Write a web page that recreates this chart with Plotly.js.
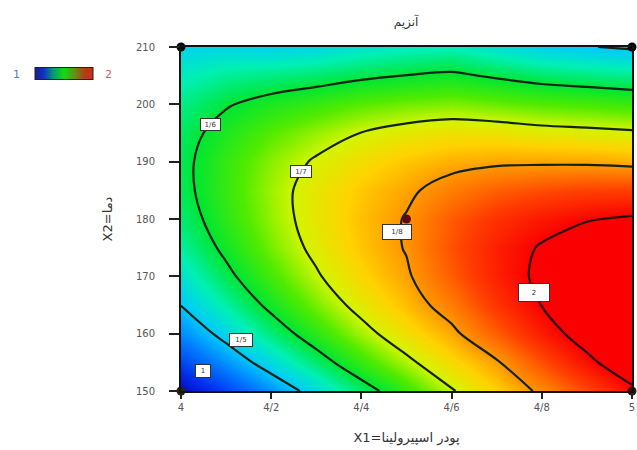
<!DOCTYPE html>
<html>
<head>
<meta charset="utf-8">
<script src="https://cdn.plot.ly/plotly-3.0.1.min.js"></script>
<style>
  html, body { margin: 0; padding: 0; background: #ffffff; }
  #chart { width: 637px; height: 450px; }
</style>
</head>
<body>
<div id="chart"></div>
<script>
// ---- data ----
const X1 = [4.0, 4.1, 4.2, 4.3, 4.4, 4.5, 4.6, 4.7, 4.8, 4.9, 5.0];
const X2 = [150, 155, 160, 165, 170, 175, 180, 185, 190, 195, 200, 205, 210];
// enzyme response, rows = X2, columns = X1
const Z = [
  [1.359,1.411,1.465,1.520,1.578,1.633,1.695,1.752,1.812,1.890,1.982],
  [1.414,1.468,1.523,1.578,1.634,1.688,1.741,1.793,1.884,1.978,2.066],
  [1.461,1.516,1.572,1.626,1.681,1.733,1.784,1.866,1.956,2.042,2.118],
  [1.501,1.556,1.612,1.665,1.718,1.768,1.830,1.920,2.002,2.076,2.142],
  [1.533,1.588,1.642,1.694,1.744,1.791,1.868,1.950,2.020,2.082,2.132],
  [1.558,1.611,1.664,1.713,1.760,1.804,1.882,1.952,2.008,2.056,2.090],
  [1.575,1.627,1.676,1.722,1.765,1.804,1.870,1.924,1.964,1.994,2.012],
  [1.585,1.634,1.680,1.721,1.758,1.788,1.828,1.864,1.886,1.900,1.902],
  [1.587,1.632,1.672,1.706,1.736,1.761,1.779,1.788,1.789,1.787,1.779],
  [1.581,1.619,1.651,1.677,1.701,1.719,1.730,1.727,1.718,1.713,1.707],
  [1.567,1.596,1.617,1.634,1.652,1.662,1.668,1.659,1.649,1.643,1.636],
  [1.544,1.562,1.570,1.578,1.591,1.601,1.608,1.594,1.580,1.572,1.565],
  [1.514,1.517,1.512,1.518,1.532,1.542,1.547,1.528,1.511,1.502,1.494]
];
const CONTOUR_LEVELS = [1.5, 1.6, 1.7, 1.8];
const TOP_LEVEL = [2];
const LABEL_VALUES = [1.6, 1.7, 1.8, 2, 1.5, 1];
const X1_TICKS = [4, 4.2, 4.4, 4.6, 4.8, 5];
const X2_TICKS = [150, 160, 170, 180, 190, 200, 210];
const DESIGN_X1 = [4, 5, 4, 5, 4.5];
const DESIGN_X2 = [150, 150, 210, 210, 180];
const DESIGN_COLORS = ['#2a2410', '#3a1010', '#000000', '#000000', '#5a0c0c'];
const LEGEND_RANGE = [1, 2];
const TITLE = 'آنزیم';
const X_TITLE = 'X1=پودر اسپیرولینا';
const Y_TITLE = 'X2=دما';

// ---- styling ----
const FONT = 'DejaVu Sans, Liberation Sans, sans-serif';
const fillScale = [
  [0.0000, '#0000be'],
  [0.0769, '#0032eb'],
  [0.1538, '#0078ff'],
  [0.2308, '#00c8ff'],
  [0.3077, '#00f0b4'],
  [0.3846, '#00e632'],
  [0.4615, '#50eb00'],
  [0.5385, '#d2f500'],
  [0.6154, '#ffd200'],
  [0.6923, '#ff9600'],
  [0.8462, '#ff4000'],
  [1.0000, '#fa0000']
];
const legendScale = [
  [0.00, '#1c1c8c'],
  [0.15, '#1030c8'],
  [0.32, '#00a070'],
  [0.50, '#10dc10'],
  [0.70, '#6a8a10'],
  [0.85, '#b04018'],
  [1.00, '#d02818']
];
const fmt = v => String(v).replace('.', '/');
const step = CONTOUR_LEVELS[1] - CONTOUR_LEVELS[0];
const legendY = (391 - 74) / 344;

const traces = [
  {
    type: 'contour', x: X1, y: X2, z: Z,
    zmin: 1.35, zmax: 2.0, zauto: false,
    colorscale: fillScale, showscale: false,
    contours: {
      coloring: 'heatmap', showlabels: false,
      start: CONTOUR_LEVELS[0], end: CONTOUR_LEVELS[CONTOUR_LEVELS.length - 1], size: step
    },
    line: { color: '#132313', width: 2.2, smoothing: 1 },
    hoverinfo: 'skip'
  },
  {
    type: 'contour', x: X1, y: X2, z: Z,
    showscale: false,
    contours: { coloring: 'none', showlabels: false, start: TOP_LEVEL[0], end: TOP_LEVEL[0], size: step },
    line: { color: '#2a0a0a', width: 2.2, smoothing: 1 },
    hoverinfo: 'skip'
  },
  {
    // colour key only (transparent cells; its colour bar is the legend)
    type: 'heatmap', z: [LEGEND_RANGE], x: [X1[0], X1[1]], y: [X2[0]],
    zmin: LEGEND_RANGE[0], zmax: LEGEND_RANGE[1], zauto: false, opacity: 0,
    colorscale: legendScale, showscale: true, hoverinfo: 'skip',
    colorbar: {
      orientation: 'h', x: (35 - 181) / 451, xanchor: 'left',
      y: legendY, yanchor: 'middle',
      lenmode: 'pixels', len: 58, thickness: 12,
      xpad: 0, ypad: 0, outlinewidth: 1, outlinecolor: '#222',
      showticklabels: false, ticks: ''
    }
  },
  {
    type: 'scatter', mode: 'markers', x: DESIGN_X1, y: DESIGN_X2,
    marker: { size: 9, color: DESIGN_COLORS, symbol: 'circle' },
    cliponaxis: false, hoverinfo: 'skip', showlegend: false
  }
];

const labelPos = [
  { x: 4.0665, y: 196.4, w: 17, h: 9 },
  { x: 4.266, y: 188.2, w: 18, h: 9 },
  { x: 4.479, y: 177.7, w: 26, h: 12 },
  { x: 4.783, y: 167.1, w: 28, h: 15 },
  { x: 4.133, y: 158.9, w: 20, h: 10 },
  { x: 4.049, y: 153.5, w: 12, h: 10 }
];
const annotations = LABEL_VALUES.map((v, i) => ({
  x: labelPos[i].x, y: labelPos[i].y, xref: 'x', yref: 'y',
  xanchor: 'center', yanchor: 'middle',
  text: fmt(v), showarrow: false,
  font: { family: FONT, size: 7, color: '#333' },
  bgcolor: '#ffffff', bordercolor: '#333', borderwidth: 1, borderpad: 1,
  width: labelPos[i].w, height: labelPos[i].h, align: 'center', valign: 'middle'
}));
annotations.push(
  { x: (16 - 181) / 451, y: legendY, xref: 'paper', yref: 'paper', xanchor: 'center', yanchor: 'middle',
    text: String(LEGEND_RANGE[0]), showarrow: false, font: { family: FONT, size: 11, color: '#4a7ad0' } },
  { x: (108 - 181) / 451, y: legendY, xref: 'paper', yref: 'paper', xanchor: 'center', yanchor: 'middle',
    text: String(LEGEND_RANGE[1]), showarrow: false, font: { family: FONT, size: 11, color: '#d06060' } }
);

const layout = {
  width: 637, height: 450,
  margin: { l: 181, r: 5, t: 47, b: 59 },
  paper_bgcolor: '#ffffff', plot_bgcolor: '#ffffff',
  separators: '/,',
  font: { family: FONT, size: 11, color: '#555' },
  showlegend: false,
  title: {
    text: TITLE, font: { family: FONT, size: 12, color: '#333' },
    x: 406 / 637, xanchor: 'center', xref: 'container',
    y: 1 - 22 / 450, yanchor: 'middle', yref: 'container'
  },
  xaxis: {
    range: [X1[0], X1[X1.length - 1]], tickvals: X1_TICKS,
    ticks: 'outside', ticklen: 6, tickwidth: 2, tickcolor: '#222',
    showline: true, linecolor: '#111', linewidth: 2, mirror: true,
    showgrid: false, zeroline: false,
    tickfont: { family: FONT, size: 10, color: '#555' },
    title: { text: X_TITLE, font: { family: FONT, size: 13, color: '#333' }, standoff: 21 }
  },
  yaxis: {
    range: [X2[0], X2[X2.length - 1]], tickvals: X2_TICKS,
    ticks: 'outside', ticklen: 10, tickwidth: 2, tickcolor: '#222',
    ticklabelstandoff: 12,
    showline: true, linecolor: '#111', linewidth: 2, mirror: true,
    showgrid: false, zeroline: false,
    tickfont: { family: FONT, size: 10, color: '#555' },
    title: { text: Y_TITLE, font: { family: FONT, size: 13, color: '#333' }, standoff: 20 }
  },
  annotations: annotations
};

Plotly.newPlot('chart', traces, layout, { displayModeBar: false, staticPlot: true });
</script>
</body>
</html>
